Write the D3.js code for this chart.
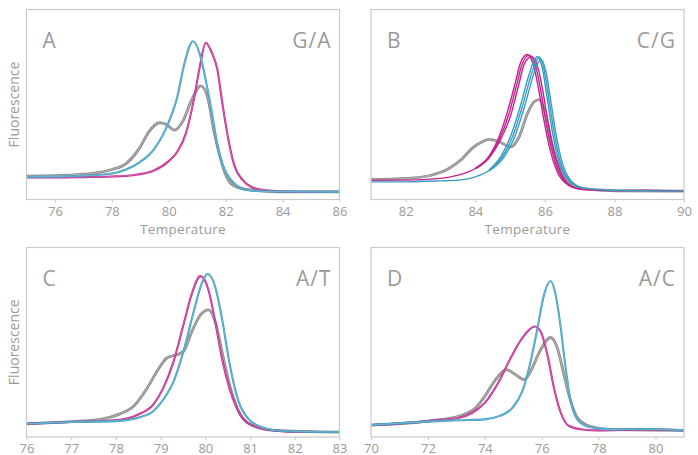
<!DOCTYPE html>
<html>
<head>
<meta charset="utf-8">
<title>Melt curves</title>
<style>
  body { margin: 0; background: #fff; }
  svg { display: block; }
  .frame { fill: none; stroke: #c9c9c9; stroke-width: 1.2; }
  .axis path { display: none; }
  .axis line { stroke: #c9c9c9; }
  .axis text { fill: #9a9a9a; font-size: 13px; font-family: "Open Sans", sans-serif; }
  .lbl { fill: #9a9a9a; font-family: "Open Sans", sans-serif; }
</style>
</head>
<body>
<svg id="chart" width="698" height="455"></svg>
<script src="https://d3js.org/d3.v7.min.js"></script>
<script>
// melt peak data: [temperature, fluorescence (-dF/dT, arbitrary)]
const panelLetters = ["A", "B", "C", "D"];
const snpLabels = ["G/A", "C/G", "A/T", "A/C"];
const xDomains = [[75, 86], [81, 90], [76, 83], [70, 81]];
const xTicks = [
  [76, 78, 80, 82, 84, 86],
  [82, 84, 86, 88, 90],
  [76, 77, 78, 79, 80, 81, 82, 83],
  [70, 72, 74, 76, 78, 80]
];

const magentaA = [[75,11.6],[76,11.6],[77,11.8],[78,12.1],[78.75,12.8],[79.5,15.4],[80,20.2],[80.3,25.1],[80.6,34.7],[80.9,54.0],[81.1,70.7],[81.3,82.5],[81.5,77.7],[81.7,69.0],[81.9,49.0],[82.1,31.2],[82.3,18.1],[82.6,10.2],[82.9,6.6],[83.4,4.9],[84.5,4.0],[86,4.0]];
const blueA = [[75,11.9],[77,12.5],[78,13.7],[78.5,15.8],[79,19.8],[79.5,26.8],[80,40.9],[80.3,54.0],[80.55,71.6],[80.85,83.3],[81.1,76.0],[81.3,62.8],[81.5,47.0],[81.7,29.5],[81.9,18.1],[82.1,11.9],[82.4,7.2],[82.8,4.9],[83.5,4.2],[86,4.0]];
const grayA = [[75,12.3],[76,12.5],[77,13.3],[77.5,14.2],[78,15.8],[78.5,18.9],[79,27.7],[79.3,35.6],[79.67,40.4],[79.9,39.6],[80.2,36.5],[80.5,41.4],[80.8,52.3],[81.13,59.8],[81.39,52.3],[81.56,38.2],[81.8,22.5],[82.03,11.9],[82.26,7.5],[82.73,5.3],[83.44,4.4],[84,4.0],[86,4.0]];

const magentaB = [[81,10.2],[82,10.2],[83,11.1],[83.5,12.8],[84,16.3],[84.4,22.5],[84.68,31.2],[84.97,45.3],[85.2,61.1],[85.35,71.6],[85.55,76.0],[85.74,69.8],[85.88,57.5],[86.02,41.8],[86.2,26.0],[86.4,14.6],[86.7,7.5],[87.08,5.3],[88,4.6],[88.9,4.9],[89.5,4.6],[90,4.4]];
const magentaB2 = [[84,16.5],[84.4,23.0],[84.66,32.0],[84.92,46.0],[85.15,61.5],[85.3,72.0],[85.49,76.3],[85.68,70.2],[85.82,58.0],[85.97,42.0],[86.15,26.0],[86.35,14.7],[86.67,7.6],[87.08,5.3]];
const magentaB3 = [[84,16.1],[84.4,22.0],[84.7,30.5],[85.02,44.5],[85.25,60.5],[85.4,71.0],[85.61,75.3],[85.8,69.4],[85.94,57.2],[86.08,41.6],[86.25,26.0],[86.45,14.5],[86.73,7.4],[87.08,5.3]];
const blueB = [[81,9.3],[82,9.3],[83,9.8],[83.5,10.2],[84,11.9],[84.4,15.4],[84.78,22.5],[85.07,33.0],[85.35,48.8],[85.59,64.6],[85.74,72.5],[85.85,74.7],[85.98,68.1],[86.12,52.3],[86.27,34.7],[86.46,18.9],[86.7,10.2],[87.08,6.1],[88,4.7],[90,4.4]];
const blueB2 = [[84.4,15.7],[84.74,22.8],[85.02,33.6],[85.3,49.5],[85.54,65.5],[85.69,73.2],[85.8,75.3],[85.93,68.8],[86.07,52.8],[86.22,35.0],[86.42,19.0],[86.67,10.3],[87.08,6.1]];
const blueB3 = [[84.4,15.1],[84.82,22.2],[85.12,32.4],[85.4,48.0],[85.64,63.6],[85.79,71.6],[85.9,73.6],[86.03,67.4],[86.17,51.8],[86.32,34.3],[86.51,18.7],[86.74,10.1],[87.08,6.1]];
const grayB = [[81,10.5],[82,11.1],[82.67,12.5],[83.24,16.3],[83.63,21.6],[83.9,26.8],[84.2,30.4],[84.39,31.6],[84.68,30.4],[85.02,27.7],[85.26,33.0],[85.5,45.3],[85.69,51.4],[85.83,52.6],[86.02,45.3],[86.2,29.5],[86.4,17.2],[86.64,9.3],[87.08,5.8],[88.04,4.6],[90,4.4]];

const magentaC = [[76,7.0],[77,7.9],[78,8.8],[78.5,11.9],[78.84,17.2],[79.06,25.9],[79.29,39.9],[79.51,59.2],[79.7,75.8],[79.89,84.9],[80.07,77.6],[80.22,60.9],[80.37,41.7],[80.56,24.2],[80.78,11.9],[81.08,5.8],[81.53,3.5],[82.05,2.8],[83,2.6]];
const blueC = [[76,7.0],[77,7.9],[78,8.4],[78.5,10.2],[78.84,13.7],[79.06,19.8],[79.29,29.4],[79.51,45.2],[79.74,66.2],[79.92,81.1],[80.05,86.0],[80.22,79.3],[80.37,62.7],[80.56,36.4],[80.74,18.9],[80.97,9.3],[81.3,4.9],[81.75,3.2],[83,2.6]];
const grayC = [[76,7.0],[77,8.1],[77.65,9.3],[78,11.4],[78.4,16.3],[78.7,25.9],[78.92,34.7],[79.14,41.7],[79.36,43.4],[79.51,45.2],[79.7,55.7],[79.89,64.4],[80.07,67.1],[80.22,60.9],[80.37,45.2],[80.56,25.9],[80.78,11.9],[81.08,5.8],[81.53,3.5],[83,2.6]];

const magentaD = [[70,6.3],[72,8.4],[73.1,10.2],[73.56,12.8],[74,18.0],[74.5,29.4],[74.85,39.9],[75.2,49.6],[75.5,55.7],[75.75,58.3],[75.96,55.7],[76.2,43.4],[76.43,25.9],[76.67,12.8],[76.96,5.8],[77.43,4.0],[78.01,3.5],[79.5,4.0],[81,3.5]];
const blueD = [[70,6.3],[72,8.1],[73.1,8.8],[74,9.3],[74.5,11.0],[74.97,15.4],[75.32,24.2],[75.61,39.9],[75.85,57.4],[76.08,75.0],[76.31,82.3],[76.49,75.0],[76.67,57.4],[76.84,36.4],[77.02,18.9],[77.25,9.3],[77.66,5.3],[78.36,4.0],[79.5,4.2],[81,3.5]];
const grayD = [[70,6.3],[72,8.4],[73.1,11.0],[73.68,15.4],[74,21.5],[74.38,30.3],[74.67,35.0],[74.76,35.6],[75.08,32.9],[75.38,30.3],[75.61,34.7],[75.9,44.3],[76.14,50.4],[76.31,52.5],[76.55,46.9],[76.78,32.9],[77.02,18.9],[77.25,10.2],[77.66,5.8],[78.36,4.0],[81,3.5]];

const panelSeries = [
  { gray: [grayA], magenta: [magentaA], blue: [blueA] },
  { gray: [grayB], magenta: [magentaB, magentaB2, magentaB3], blue: [blueB, blueB2, blueB3] },
  { gray: [grayC], magenta: [magentaC], blue: [blueC] },
  { gray: [grayD], magenta: [magentaD], blue: [blueD] }
];

const colors = { gray: "#8b8b8b", magenta: "#c2248f", blue: "#3a9dc2" };
const panelBoxes = [
  { x0: 26.5, x1: 339.5, y0: 9.5, y1: 199.5 },
  { x0: 371, x1: 684, y0: 9.5, y1: 199.5 },
  { x0: 26.5, x1: 339.5, y0: 247.5, y1: 437 },
  { x0: 371, x1: 684, y0: 247.5, y1: 437 }
];

const svg = d3.select("#chart");

panelBoxes.forEach((b, i) => {
  const x = d3.scaleLinear().domain(xDomains[i]).range([b.x0, b.x1]);
  const y = d3.scaleLinear().domain([0, 100]).range([b.y1, b.y0]);
  const g = svg.append("g");

  g.append("defs").append("clipPath").attr("id", "clip" + i)
    .append("rect").attr("x", b.x0).attr("y", b.y0)
    .attr("width", b.x1 - b.x0).attr("height", b.y1 - b.y0);

  const line = d3.line().x(d => x(d[0])).y(d => y(d[1])).curve(d3.curveMonotoneX);
  const plot = g.append("g").attr("clip-path", `url(#clip${i})`);

  ["gray", "magenta", "blue"].forEach(k => {
    const reps = panelSeries[i][k];
    const single = reps.length === 1;
    reps.forEach(s => {
      plot.append("path").datum(s).attr("d", line)
        .attr("fill", "none").attr("stroke", colors[k])
        .attr("stroke-width", k === "gray" ? 2.8 : (single ? 2.1 : 1.4))
        .attr("stroke-linejoin", "round");
      if (single) {
        plot.append("path").datum(s).attr("d", line)
          .attr("fill", "none").attr("stroke", "#fff")
          .attr("stroke-opacity", 0.45)
          .attr("stroke-width", k === "gray" ? 0.8 : 0.6);
      }
    });
  });

  g.append("rect").attr("class", "frame")
    .attr("x", b.x0).attr("y", b.y0)
    .attr("width", b.x1 - b.x0).attr("height", b.y1 - b.y0);

  g.append("g").attr("class", "axis")
    .attr("transform", `translate(0,${b.y1})`)
    .call(d3.axisBottom(x).tickValues(xTicks[i]).tickSize(3).tickPadding(4).tickFormat(d3.format("d")));

  g.append("text").attr("class", "lbl")
    .attr("x", b.x0 + 16).attr("y", b.y0 + 38)
    .attr("font-size", 21).text(panelLetters[i]);
  g.append("text").attr("class", "lbl")
    .attr("x", b.x1 - 8).attr("y", b.y0 + 38)
    .attr("text-anchor", "end").attr("font-size", 21)
    .attr("letter-spacing", 1).text(snpLabels[i]);

  if (i < 2) {
    g.append("text").attr("class", "lbl")
      .attr("x", (b.x0 + b.x1) / 2).attr("y", b.y1 + 34)
      .attr("text-anchor", "middle").attr("font-size", 13.5)
      .attr("letter-spacing", 0.3)
      .text("Temperature");
  }
  if (i % 2 === 0) {
    g.append("text").attr("class", "lbl")
      .attr("transform", `translate(${b.x0 - 8},${(b.y0 + b.y1) / 2}) rotate(-90)`)
      .attr("text-anchor", "middle").attr("font-size", 14)
      .text("Fluorescence");
  }
});
</script>
</body>
</html>
